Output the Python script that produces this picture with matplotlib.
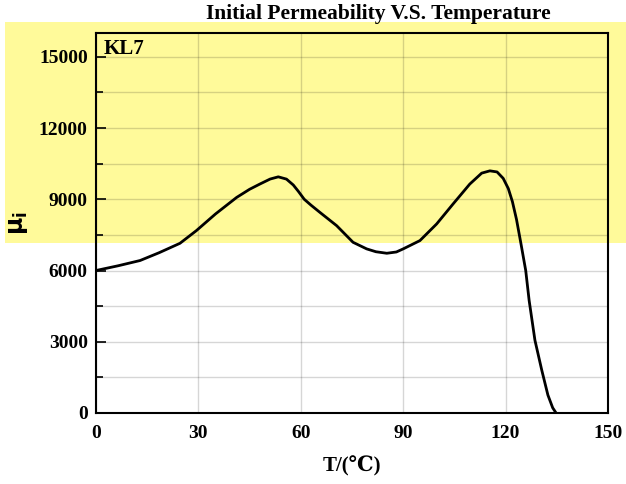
import matplotlib
matplotlib.use("Agg")
import matplotlib.pyplot as plt
from matplotlib.patches import Rectangle
from matplotlib.ticker import MultipleLocator

# temperature (C) and initial permeability
temp = [0, 6.5, 12.9, 18.5, 24.6, 29.4, 35, 41.2, 45, 48, 51, 53.4, 55.8, 57.8, 59.3,
        61, 63, 65.6, 70.5, 75.3, 79.3, 82, 85.2, 88, 90, 94.9, 99.8, 104.6, 109.5, 113,
        115.4, 117.5, 119.3, 120.8, 122, 123.2, 124.5, 125.9, 126.9, 128.6, 130.6, 132.4,
        133.8, 134.8]
mu_i = [6000, 6200, 6420, 6750, 7146, 7679, 8380, 9077, 9420, 9640, 9850, 9944, 9848,
        9600, 9330, 9000, 8750, 8447, 7888, 7188, 6910, 6790, 6726, 6780, 6910, 7259,
        7960, 8799, 9638, 10100, 10196, 10150, 9880, 9450, 8900, 8150, 7133, 6000, 4741,
        3063, 1804, 755, 220, 0]

x_ticks = [0, 30, 60, 90, 120, 150]
y_ticks = [0, 3000, 6000, 9000, 12000, 15000]

plt.rcParams["font.family"] = ["Liberation Serif", "DejaVu Serif"]
plt.rcParams["font.weight"] = "bold"

fig = plt.figure(figsize=(6.26, 4.84), dpi=100)
ax = fig.add_axes([0.1534, 0.1467, 0.8178, 0.7851])
ax.patch.set_alpha(0)
ax.set_zorder(2)

# yellow highlight band behind the upper half
fig.patches.append(Rectangle((5 / 626, 1 - 243 / 484), 621 / 626, 221 / 484,
                             transform=fig.transFigure, facecolor="#fffa9a",
                             edgecolor="none", zorder=1))

ax.plot(temp, mu_i, color="black", lw=2.0, solid_joinstyle="round")

ax.set_xlim(0, 150)
ax.set_ylim(0, 16000)
ax.set_xticks(x_ticks)
ax.set_yticks(y_ticks)
ax.yaxis.set_minor_locator(MultipleLocator(1500))
ax.grid(True, which="both", color="black", alpha=0.16, lw=1)
ax.tick_params(direction="in", length=7, width=1.2, labelsize=14, pad=6)
ax.tick_params(which="minor", direction="in", length=5, width=1.2)
ax.tick_params(axis="x", length=0, pad=9)
for s in ax.spines.values():
    s.set_linewidth(1.5)

ax.text(0.015, 0.985, "KL7", transform=ax.transAxes, fontsize=15,
        fontweight="bold", va="top", ha="left")
ax.set_xlabel("T/(℃)", fontsize=15, fontweight="bold", labelpad=10)
ax.set_ylabel(r"$\mathbf{\mu_i}$", fontsize=17, labelpad=6)
fig.text(0.604, 0.971, "Initial Permeability V.S. Temperature", fontsize=15.5,
         fontweight="bold", ha="center", va="center")

fig.savefig("out.png", dpi=100)
